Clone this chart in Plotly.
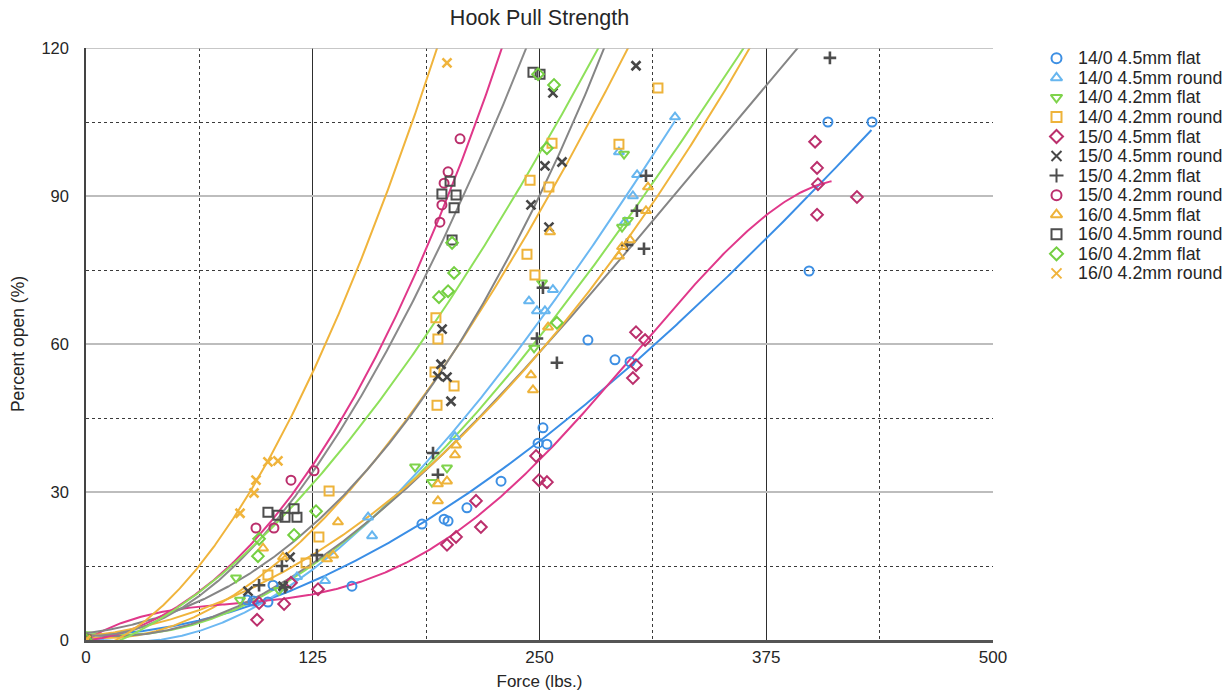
import numpy as np
import plotly.graph_objects as go

# ---- data: force (lbs.) vs percent open (%) for each hook type ----
s1_name = "14/0 4.5mm flat"
s1_x = [0, 88.8, 92.1, 100.3, 103.1, 146.6, 185.2, 197.4, 199.6, 210.0, 228.8, 249.2, 251.9, 254.1, 276.7, 291.6, 299.9, 398.6, 409.0, 433.3]
s1_y = [0, 8.1, 7.9, 7.7, 11.1, 10.9, 23.5, 24.5, 24.1, 26.8, 32.2, 39.9, 43.0, 39.7, 60.8, 56.8, 56.4, 74.8, 105.0, 105.0]

s2_name = "14/0 4.5mm round"
s2_x = [0, 116.3, 131.8, 155.5, 157.7, 203.4, 244.2, 248.6, 253.0, 257.4, 293.8, 297.1, 301.5, 303.8, 324.7]
s2_y = [0, 12.8, 12.0, 24.9, 21.1, 41.2, 68.7, 66.7, 66.7, 71.0, 98.9, 84.7, 90.0, 94.3, 106.0]

s3_name = "14/0 4.2mm flat"
s3_x = [0, 82.7, 84.9, 106.4, 181.4, 190.7, 199.0, 247.0, 251.4, 295.5, 298.8, 296.6]
s3_y = [0, 12.6, 8.1, 10.1, 35.1, 32.0, 34.9, 59.2, 72.4, 83.7, 85.1, 98.5]

s4_name = "14/0 4.2mm round"
s4_x = [0, 100.3, 121.3, 128.4, 134.0, 192.9, 194.0, 192.4, 202.9, 193.5, 243.1, 247.5, 244.8, 255.2, 256.9, 293.8, 315.3]
s4_y = [0, 13.2, 15.6, 20.9, 30.2, 65.3, 61.0, 54.3, 51.5, 47.6, 78.2, 74.0, 93.2, 91.8, 100.7, 100.5, 111.9]

s5_name = "15/0 4.5mm flat"
s5_x = [0, 94.3, 95.4, 109.2, 113.0, 127.9, 199.0, 204.0, 215.0, 217.7, 248.1, 249.7, 254.1, 301.5, 303.2, 303.2, 308.2, 401.9, 403.0, 403.5, 403.0, 425.0]
s5_y = [0, 4.1, 7.5, 7.3, 11.6, 10.3, 19.3, 20.9, 28.2, 22.9, 37.3, 32.4, 32.0, 53.1, 55.7, 62.4, 60.8, 101.0, 95.7, 92.4, 86.2, 89.8]

s6_name = "15/0 4.5mm round"
s6_x = [0, 89.3, 112.5, 108.6, 196.3, 195.7, 199.0, 194.0, 201.2, 253.0, 262.4, 245.3, 255.2, 257.4, 303.2]
s6_y = [0, 9.9, 16.8, 10.9, 63.0, 55.9, 53.3, 53.5, 48.4, 96.1, 96.9, 88.2, 83.7, 110.9, 116.4]

s7_name = "15/0 4.2mm flat"
s7_x = [0, 95.4, 108.0, 109.7, 127.3, 191.3, 194.0, 248.6, 251.9, 259.6, 298.2, 303.7, 307.6, 308.7, 410.1]
s7_y = [0, 11.1, 15.0, 10.7, 17.2, 37.9, 33.5, 61.1, 71.4, 56.2, 80.1, 87.0, 79.3, 94.1, 118.0]

s8_name = "15/0 4.2mm round"
s8_x = [0, 93.7, 103.6, 113.0, 125.7, 195.1, 196.2, 197.4, 199.6, 206.2]
s8_y = [0, 22.7, 22.7, 32.4, 34.3, 84.7, 88.2, 92.6, 94.9, 101.6]

s9_name = "16/0 4.5mm flat"
s9_x = [0, 97.6, 108.6, 132.9, 136.2, 138.9, 194.0, 194.0, 199.0, 203.4, 204.0, 245.3, 246.4, 254.7, 255.8, 293.8, 295.5, 299.9, 308.7, 309.8]
s9_y = [0, 18.6, 16.8, 16.4, 17.2, 23.9, 28.2, 31.6, 32.2, 37.5, 39.5, 53.7, 50.7, 63.4, 82.7, 77.8, 79.7, 81.1, 87.0, 91.8]

s10_name = "16/0 4.5mm round"
s10_x = [0, 100.3, 105.8, 109.7, 114.7, 116.3, 201.8, 202.9, 196.2, 204.0, 200.7, 246.4, 250.3]
s10_y = [0, 25.9, 25.3, 24.9, 26.6, 24.9, 81.1, 87.6, 90.4, 90.2, 93.0, 115.1, 114.7]

s11_name = "16/0 4.2mm flat"
s11_x = [0, 94.8, 95.4, 114.7, 126.8, 194.6, 199.6, 202.9, 201.8, 254.1, 249.2, 258.0, 259.6]
s11_y = [0, 17.0, 20.5, 21.3, 26.1, 69.5, 70.7, 74.4, 80.5, 99.7, 114.7, 112.5, 64.3]

s12_name = "16/0 4.2mm round"
s12_x = [0, 84.9, 92.6, 93.7, 100.3, 105.8, 199.0]
s12_y = [0, 25.7, 29.8, 32.4, 36.1, 36.3, 117.0]

# ---- trendlines: points ----
s1_trend_x = [0, 31, 59, 125, 156.6, 187.5, 250, 288.9, 312.5, 338.5, 375, 433]
s1_trend_y = [0, 2.5, 4.5, 13, 16.8, 23, 39.5, 52.7, 58.8, 70.3, 81, 103]
s2_trend_x = [0, 62.8, 117.9, 159.3, 211.6, 250.3, 303.2, 324.7]
s2_trend_y = [0, 3.5, 12.2, 24.3, 44.6, 66.3, 95.1, 103.4]
s3_trend_x = [20.4, 62.8, 115, 162, 250.3, 283.4, 338.5, 366]
s3_trend_y = [0, 5, 14, 24, 60.4, 78.6, 108.9, 120.2]
s4_trend_x = [0, 62.8, 125, 164.8, 178.6, 222.7, 250.3, 299.9]
s4_trend_y = [0, 7.1, 21, 38.1, 45, 71.4, 87.2, 120.2]
s5_trend_x = [0, 31, 62.5, 125, 156.6, 199, 250, 287, 338.5, 375, 411]
s5_trend_y = [0, 4.5, 7, 10, 12.2, 19.3, 36.5, 52.7, 73.6, 84.5, 93.7]
s6_trend_x = [0, 31.4, 62.8, 94.3, 156.6, 178.6, 218.9, 250.3, 287.2]
s6_trend_y = [0, 5.5, 9.5, 12.5, 34.5, 44.6, 69.0, 91.8, 120.2]
s7_trend_x = [0, 62.8, 115, 162, 250.3, 283.4, 338.5, 391]
s7_trend_y = [0, 6, 14, 23.5, 58.2, 71.4, 99.7, 118]
s8_trend_x = [0, 31.4, 62.8, 93.7, 125.7, 136.2, 156.6, 177, 188, 208.9, 229.9]
s8_trend_y = [0, 3, 8.7, 22.7, 34.3, 42.6, 55, 69.5, 80.1, 99.7, 120.2]
s9_trend_x = [0, 62.8, 115, 162, 250.3, 338.5, 368]
s9_trend_y = [0, 8, 15, 25, 58.8, 104.6, 120.2]
s10_trend_x = [0, 31.4, 62.8, 109.7, 140, 156.6, 184.1, 196.2, 222.7, 246.4]
s10_trend_y = [0, 4, 10, 24.3, 42.2, 53.1, 70.9, 81.1, 104, 122]
s11_trend_x = [20.4, 62.8, 106.9, 152.7, 199.6, 221.6, 252.9, 283.4]
s11_trend_y = [0, 10, 25.2, 42.6, 68.9, 81.1, 100.9, 120.2]
s12_trend_x = [20.4, 40.8, 62.8, 84.9, 110.8, 125.1, 145.5, 173.1, 196.8]
s12_trend_y = [0, 7.5, 16.2, 25.7, 42.6, 54.1, 72.5, 98.5, 123]

x_ticks = [0, 125, 250, 375, 500]
y_ticks = [0, 30, 60, 90, 120]

# (name, x, y, trend x, trend y, polynomial order, marker symbol, marker colour, line colour)
series = [
    (s1_name, s1_x, s1_y, s1_trend_x, s1_trend_y, 3, "circle-open", "#3d8fe3", "#3a8ee6"),
    (s2_name, s2_x, s2_y, s2_trend_x, s2_trend_y, 3, "triangle-up-open", "#67b6ef", "#6cb8f2"),
    (s3_name, s3_x, s3_y, s3_trend_x, s3_trend_y, 3, "triangle-down-open", "#7fd34c", "#8ee05a"),
    (s4_name, s4_x, s4_y, s4_trend_x, s4_trend_y, 3, "square-open", "#eeb33a", "#f0b43c"),
    (s5_name, s5_x, s5_y, s5_trend_x, s5_trend_y, 4, "diamond-open", "#bb2f6c", "#e0388a"),
    (s6_name, s6_x, s6_y, s6_trend_x, s6_trend_y, 3, "x-thin-open", "#474747", "#858585"),
    (s7_name, s7_x, s7_y, s7_trend_x, s7_trend_y, 3, "cross-thin-open", "#4d4d4d", "#858585"),
    (s8_name, s8_x, s8_y, s8_trend_x, s8_trend_y, 3, "circle-open", "#bb2f6c", "#e0388a"),
    (s9_name, s9_x, s9_y, s9_trend_x, s9_trend_y, 3, "triangle-up-open", "#eeb33a", "#f0b43c"),
    (s10_name, s10_x, s10_y, s10_trend_x, s10_trend_y, 3, "square-open", "#4d4d4d", "#8a8a8a"),
    (s11_name, s11_x, s11_y, s11_trend_x, s11_trend_y, 3, "diamond-open", "#74cf42", "#8ee05a"),
    (s12_name, s12_x, s12_y, s12_trend_x, s12_trend_y, 3, "x-thin-open", "#f0b43c", "#f0b43c"),
]

FONT = "Liberation Sans, Arial, Helvetica, sans-serif"
TEXT = "#262626"

# pixel geometry of the figure
W, H = 1232, 698
L, R, T, B = 86, 0, 48, 58
PLOT_RIGHT = 993                      # right edge of the chart area
PW = W - L - R
plot_dom = [0, (PLOT_RIGHT - L) / PW]
LEG_LEFT = 1030
leg_dom = [(LEG_LEFT - L) / PW, 1]
Y_MAX = 120

fig = go.Figure()

# smooth polynomial trendlines through the trend points
for name, xs, ys, tx, ty, order, sym, mcol, lcol in series:
    tx_a = np.asarray(tx, dtype=float)
    ty_a = np.asarray(ty, dtype=float)
    coef = np.polyfit(tx_a, ty_a, order)
    x_end = tx_a.max() + (8 if ty_a.max() >= Y_MAX - 3 else 0)   # run past the top edge
    xf = np.linspace(0, x_end, 400)
    fig.add_trace(go.Scatter(
        x=xf, y=np.polyval(coef, xf), mode="lines", line=dict(color=lcol, width=2),
        showlegend=False, hoverinfo="skip",
    ))

# data points
for name, xs, ys, tx, ty, order, sym, mcol, lcol in series:
    thick = sym in ("x-thin-open", "cross-thin-open")
    fig.add_trace(go.Scatter(
        x=xs, y=ys, mode="markers", name=name, showlegend=False,
        marker=dict(symbol=sym, size=9, color=mcol,
                    line=dict(color=mcol, width=2.6 if thick else 2)),
    ))

# key: one marker per series on its own pixel-scaled axes, names as text
row0, row_step = 58.3, 19.55
key_y = [row0 + row_step * i for i in range(len(series))]
key_mx = 1056.5
fig.add_trace(go.Scatter(
    x=[key_mx] * len(series), y=key_y, mode="markers",
    xaxis="x2", yaxis="y2", showlegend=False, hoverinfo="skip",
    marker=dict(symbol=[s[6] for s in series], size=10,
                color=[s[7] for s in series],
                line=dict(color=[s[7] for s in series], width=2)),
))
for s, yk in zip(series, key_y):
    fig.add_annotation(x=1076, y=yk, xref="x2", yref="y2", text=s[0],
                       showarrow=False, xanchor="left", yanchor="middle",
                       font=dict(size=17.8, color=TEXT, family=FONT))

fig.update_layout(
    width=W, height=H,
    paper_bgcolor="white", plot_bgcolor="white",
    margin=dict(l=L, r=R, t=T, b=B, autoexpand=False),
    font=dict(family=FONT, size=17, color=TEXT),
    title=dict(text="Hook Pull Strength", x=(L + PLOT_RIGHT) / 2 / W, xanchor="center",
               y=1 - 17 / H, yanchor="middle", font=dict(size=21.5, color=TEXT)),
    showlegend=False,
    xaxis=dict(
        domain=plot_dom,
        range=[0, 500], tickvals=x_ticks, ticktext=[str(v) for v in x_ticks],
        showgrid=True, gridcolor="#2e2e2e", gridwidth=1,
        minor=dict(dtick=62.5, tick0=0, showgrid=True, gridcolor="#3a3a3a",
                   griddash="dot", gridwidth=1),
        showline=True, linecolor="#555555", linewidth=2.5,
        zeroline=False, ticks="", ticklen=0, tickfont=dict(size=17),
        title=dict(text="Force (lbs.)", standoff=9, font=dict(size=17)),
        fixedrange=True,
    ),
    yaxis=dict(
        domain=[0, 1],
        range=[0, Y_MAX], tickvals=y_ticks, ticktext=[str(v) for v in y_ticks],
        showgrid=True, gridcolor="#bdbdbd", gridwidth=1.5,
        minor=dict(dtick=15, tick0=0, showgrid=True, gridcolor="#3a3a3a",
                   griddash="dot", gridwidth=1),
        showline=True, linecolor="#444444", linewidth=1.5,
        zeroline=False, ticks="", ticklen=0, ticklabelstandoff=12, tickfont=dict(size=16.5),
        title=dict(text="Percent open (%)", standoff=12, font=dict(size=17.5)),
        fixedrange=True,
    ),
    xaxis2=dict(domain=leg_dom, range=[LEG_LEFT, W], anchor="y2",
                visible=False, fixedrange=True),
    yaxis2=dict(domain=[0, 1], range=[H - B, T], anchor="x2",
                visible=False, fixedrange=True),
    shapes=[
        # top edge of the chart area
        dict(type="line", xref="x", yref="y", x0=0, x1=500, y0=Y_MAX, y1=Y_MAX,
             line=dict(color="#b5b5b5", width=1.5), layer="above"),
    ],
)

fig.write_html("out.html")
